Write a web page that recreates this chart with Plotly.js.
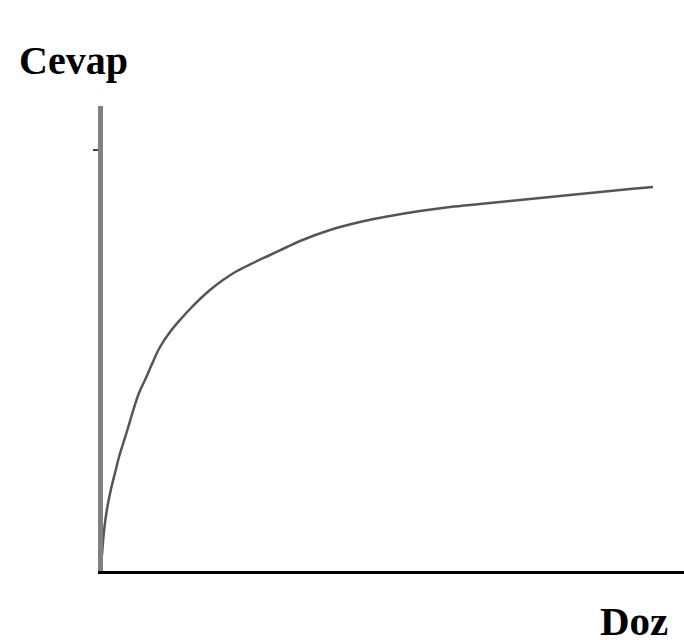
<!DOCTYPE html>
<html>
<head>
<meta charset="utf-8">
<script src="https://cdn.plot.ly/plotly-3.0.1.min.js"></script>
<style>html,body{margin:0;padding:0;background:#fff;}#chart{width:684px;height:643px;}</style>
</head>
<body>
<div id="chart"></div>
<script>
// Dose (Doz) vs response (Cevap) curve
const doseValues = [-1, 1, 4, 8, 12, 16, 20, 25, 30, 36, 42, 49, 57, 67, 77, 87, 97, 107, 120, 134, 150, 167, 184, 197, 227, 257, 287, 317, 347, 377, 407, 437, 467, 497, 527, 550];
const responseValues = [16, 40, 62, 82, 98, 114, 127, 143, 160, 178, 191, 207, 224, 239, 251, 262, 272, 281, 291, 300, 308, 316, 324, 330, 341, 349, 355, 360, 364, 367, 370, 373, 376, 379, 382, 384];
const yTickValues = [421];
const yTickLabels = [''];
const yAxisLabel = 'Cevap';
const xAxisLabel = 'Doz';

const trace = {
  x: doseValues,
  y: responseValues,
  type: 'scatter',
  mode: 'lines',
  line: {color: '#555555', width: 2.5, shape: 'spline', smoothing: 1},
  cliponaxis: false,
  hoverinfo: 'skip'
};

const layout = {
  width: 684,
  height: 643,
  margin: {l: 103, r: 0, t: 106, b: 72, pad: 0},
  paper_bgcolor: '#ffffff',
  plot_bgcolor: '#ffffff',
  showlegend: false,
  xaxis: {
    range: [0, 581],
    showgrid: false,
    zeroline: false,
    showline: true,
    linecolor: '#000000',
    linewidth: 3,
    ticks: '',
    showticklabels: false,
    fixedrange: true
  },
  yaxis: {
    range: [0, 465],
    showgrid: false,
    zeroline: false,
    showline: true,
    linecolor: '#808080',
    linewidth: 5,
    ticks: 'outside',
    ticklen: 5,
    tickwidth: 2,
    tickcolor: '#444444',
    tickvals: yTickValues,
    ticktext: yTickLabels,
    showticklabels: false,
    fixedrange: true
  },
  annotations: [
    {
      text: '<b>' + yAxisLabel + '</b>',
      xref: 'paper', yref: 'paper',
      x: (17 - 103) / 581, y: (571 - 60) / 465,
      xanchor: 'left', yanchor: 'middle',
      showarrow: false,
      font: {family: 'Liberation Serif, Times New Roman, serif', size: 40, color: '#000000'}
    },
    {
      text: '<b>' + xAxisLabel + '</b>',
      xref: 'paper', yref: 'paper',
      x: (598 - 103) / 581, y: (571 - 621) / 465,
      xanchor: 'left', yanchor: 'middle',
      showarrow: false,
      font: {family: 'Liberation Serif, Times New Roman, serif', size: 41, color: '#000000'}
    }
  ]
};

Plotly.newPlot('chart', [trace], layout, {displayModeBar: false, staticPlot: true});
</script>
</body>
</html>
